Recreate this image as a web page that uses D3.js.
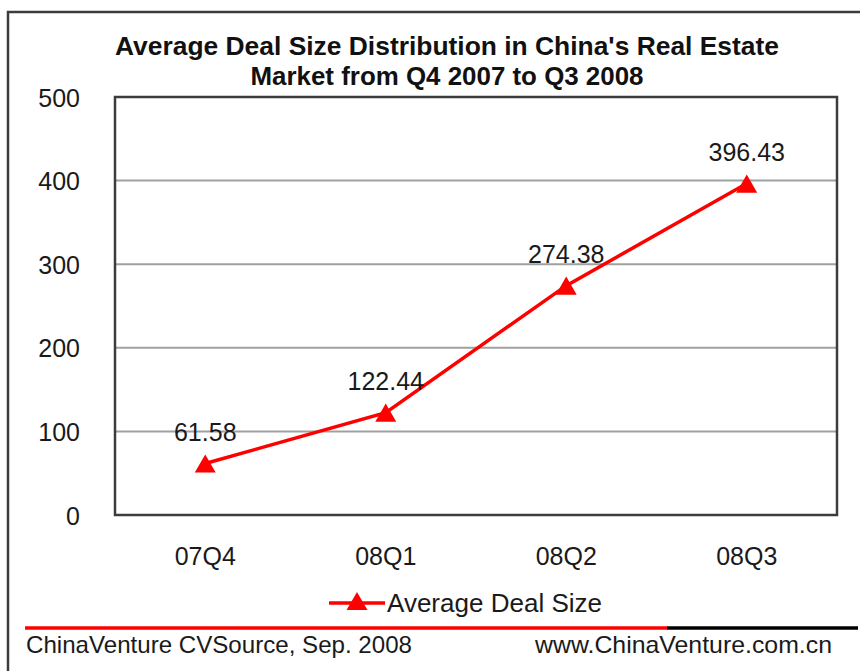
<!DOCTYPE html>
<html>
<head>
<meta charset="utf-8">
<script src="https://cdn.jsdelivr.net/npm/d3@7"></script>
<style>
  html, body { margin: 0; padding: 0; background: #fff; }
  svg { display: block; }
  text { font-family: "Liberation Sans", Arial, sans-serif; fill: #1a1a1a; }
</style>
</head>
<body>
<svg id="chart" width="860" height="671"></svg>
<script>
const categories = ["07Q4", "08Q1", "08Q2", "08Q3"];
const values = [61.58, 122.44, 274.38, 396.43];
const valueLabels = ["61.58", "122.44", "274.38", "396.43"];
const yTicks = [0, 100, 200, 300, 400, 500];
const titleLines = ["Average Deal Size Distribution in China's Real Estate", "Market from Q4 2007 to Q3 2008"];
const seriesName = "Average Deal Size";
const footerLeft = "ChinaVenture CVSource, Sep. 2008";
const footerRight = "www.ChinaVenture.com.cn";

const svg = d3.select("#chart");
const plot = { left: 115, right: 837, top: 97, bottom: 515 };

// outer border
svg.append("path")
  .attr("d", "M8,671 L8,12 L860,12")
  .attr("fill", "none").attr("stroke", "#3c3c3c").attr("stroke-width", 2.5);

// title
const titleX = 447;
const titleW = [664, 393];
titleLines.forEach((t, i) => {
  svg.append("text")
    .attr("x", titleX).attr("y", 55 + i * 30)
    .attr("text-anchor", "middle")
    .attr("font-weight", "bold").attr("font-size", 25)
    .attr("textLength", titleW[i]).attr("lengthAdjust", "spacingAndGlyphs")
    .style("fill", "#111")
    .text(t);
});

const x = d3.scaleBand().domain(categories).range([plot.left, plot.right]);
const y = d3.scaleLinear().domain([0, 500]).range([plot.bottom, plot.top]);

// gridlines
svg.append("g").selectAll("line")
  .data(yTicks.filter(d => d > 0 && d < 500))
  .join("line")
  .attr("x1", plot.left).attr("x2", plot.right)
  .attr("y1", d => y(d)).attr("y2", d => y(d))
  .attr("stroke", "#a0a0a0").attr("stroke-width", 2);

// plot frame
svg.append("rect")
  .attr("x", plot.left).attr("y", plot.top)
  .attr("width", plot.right - plot.left).attr("height", plot.bottom - plot.top)
  .attr("fill", "none").attr("stroke", "#3c3c3c").attr("stroke-width", 2.5);

// y axis labels
const yAxis = svg.append("g")
  .attr("transform", `translate(80,0)`)
  .call(d3.axisLeft(y).tickValues(yTicks).tickSize(0).tickPadding(0).tickFormat(d3.format("d")));
yAxis.select(".domain").remove();
yAxis.selectAll("text")
  .attr("font-size", 25).attr("dy", "0.36em")
  .attr("font-family", null)
  .style("fill", "#1a1a1a");

// x axis labels
const xAxis = svg.append("g")
  .attr("transform", `translate(0,${plot.bottom})`)
  .call(d3.axisBottom(x).tickSize(0).tickPadding(0));
xAxis.select(".domain").remove();
xAxis.selectAll("text")
  .attr("font-size", 25).attr("y", 50).attr("dy", 0)
  .attr("font-family", null)
  .style("fill", "#1a1a1a");

const cx = d => x(d) + x.bandwidth() / 2;
const data = categories.map((c, i) => ({ c, v: values[i], label: valueLabels[i] }));

// line
svg.append("path")
  .datum(data)
  .attr("fill", "none").attr("stroke", "#ff0000").attr("stroke-width", 3.5)
  .attr("d", d3.line().x(d => cx(d.c)).y(d => y(d.v)));

// markers
const tri = d3.symbol().type(d3.symbolTriangle).size(190);
svg.append("g").selectAll("path")
  .data(data).join("path")
  .attr("d", tri)
  .attr("transform", d => `translate(${cx(d.c)},${y(d.v) + 3})`)
  .attr("fill", "#ff0000");

// data labels
svg.append("g").selectAll("text")
  .data(data).join("text")
  .attr("x", d => cx(d.c)).attr("y", d => y(d.v) - 23)
  .attr("text-anchor", "middle").attr("font-size", 25)
  .text(d => d.label);

// legend
svg.append("line")
  .attr("x1", 329).attr("x2", 385).attr("y1", 603).attr("y2", 603)
  .attr("stroke", "#ff0000").attr("stroke-width", 3.5);
svg.append("path")
  .attr("d", tri).attr("transform", "translate(357,604)").attr("fill", "#ff0000");
svg.append("text")
  .attr("x", 387).attr("y", 612).attr("font-size", 25)
  .attr("textLength", 215).attr("lengthAdjust", "spacingAndGlyphs")
  .text(seriesName);

// footer rule
svg.append("line").attr("x1", 25).attr("x2", 667).attr("y1", 628).attr("y2", 628)
  .attr("stroke", "#ff0000").attr("stroke-width", 3.5);
svg.append("line").attr("x1", 667).attr("x2", 858).attr("y1", 628).attr("y2", 628)
  .attr("stroke", "#000").attr("stroke-width", 3.5);

svg.append("text")
  .attr("x", 26).attr("y", 653).attr("font-size", 24)
  .attr("textLength", 386).attr("lengthAdjust", "spacingAndGlyphs")
  .text(footerLeft);
svg.append("text")
  .attr("x", 535).attr("y", 653).attr("font-size", 24)
  .attr("textLength", 297).attr("lengthAdjust", "spacingAndGlyphs")
  .text(footerRight);
</script>
</body>
</html>
